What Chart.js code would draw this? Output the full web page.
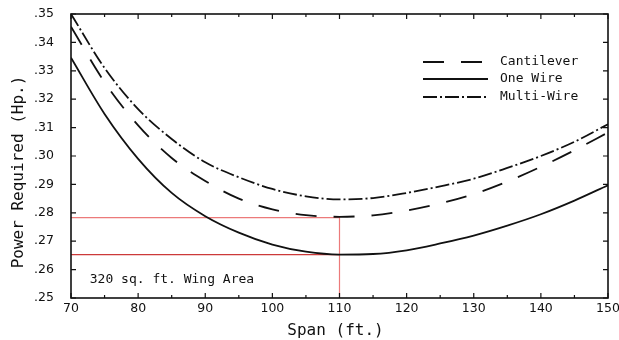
<!DOCTYPE html>
<html>
<head>
<meta charset="utf-8">
<script src="https://cdn.jsdelivr.net/npm/chart.js@4.4.1/dist/chart.umd.min.js"></script>
<style>
  html, body { margin: 0; padding: 0; background: #fff; }
  #wrap { width: 619px; height: 340px; }
</style>
</head>
<body>
<div id="wrap"><canvas id="power-chart" width="619" height="340"></canvas></div>
<script>
// Span (ft.)
var span = [70, 75, 80, 85, 90, 95, 100, 105, 110, 115, 120, 125, 130, 135, 140, 145, 150];
// Power Required (Hp.)
var cantilever = [.3455, .3260, .3108, .2993, .2912, .2850, .2812, .2792, .2786, .2791, .2808, .2833, .2866, .2910, .2962, .3020, .3083];
var oneWire    = [.3346, .3148, .2990, .2870, .2788, .2730, .2688, .2663, .2653, .2655, .2668, .2692, .2720, .2755, .2795, .2843, .2897];
var multiWire  = [.3500, .3310, .3165, .3060, .2978, .2925, .2884, .2858, .2847, .2852, .2870, .2893, .2920, .2958, .3000, .3050, .3112];

// red guide lines (read at 110 ft.)
var guideSpan = [70, 110, 110];
var guideCantilever = [.2783, .2783, .25];
var guideOneWire = [.2653, .2653];

var xTicks = [70, 80, 90, 100, 110, 120, 130, 140, 150];
var yTicks = [.25, .26, .27, .28, .29, .30, .31, .32, .33, .34, .35];
var noteText = '320 sq. ft. Wing Area';
var xTitle = 'Span (ft.)';
var yTitle = 'Power Required (Hp.)';

function toPoints(xs, ys) {
    var pts = [];
    for (var i = 0; i < ys.length; i++) pts.push({x: xs[i], y: ys[i]});
    return pts;
}

var mono = '"DejaVu Sans Mono", monospace';

// frame, inward ticks, legend, note and axis titles
var framePlugin = {
    id: 'frame',
    afterDatasetsDraw: function (chart) {
        var ctx = chart.ctx, a = chart.chartArea;
        var xs = chart.scales.x, ys = chart.scales.y;
        ctx.save();
        ctx.strokeStyle = '#111';
        ctx.lineWidth = 1.6;
        ctx.strokeRect(a.left, a.top, a.right - a.left, a.bottom - a.top);
        ctx.lineWidth = 1.2;
        ctx.beginPath();
        for (var v = 70; v <= 150; v += 5) {
            var px = xs.getPixelForValue(v);
            var len = (v % 10 === 0) ? 5 : 3;
            ctx.moveTo(px, a.bottom); ctx.lineTo(px, a.bottom - len);
            ctx.moveTo(px, a.top); ctx.lineTo(px, a.top + len);
        }
        yTicks.forEach(function (t) {
            var py = ys.getPixelForValue(t);
            ctx.moveTo(a.left, py); ctx.lineTo(a.left + 5, py);
            ctx.moveTo(a.right, py); ctx.lineTo(a.right - 5, py);
        });
        ctx.stroke();

        // legend
        var ds = chart.data.datasets;
        var x0 = a.right - 185, x1 = a.right - 120, tx = a.right - 108;
        var rowY = [a.top + 48, a.top + 65, a.top + 83];
        ctx.font = '13px ' + mono;
        ctx.fillStyle = '#111';
        ctx.textBaseline = 'middle';
        for (var i = 0; i < 3; i++) {
            ctx.setLineDash(ds[i].borderDash || []);
            ctx.lineWidth = ds[i].borderWidth;
            ctx.strokeStyle = ds[i].borderColor;
            ctx.beginPath();
            ctx.moveTo(x0, rowY[i]); ctx.lineTo(x1, rowY[i]);
            ctx.stroke();
            ctx.fillText(ds[i].label, tx, rowY[i]);
        }
        ctx.setLineDash([]);

        // note
        ctx.fillText(noteText, xs.getPixelForValue(72.8), ys.getPixelForValue(.2565));

        // axis titles
        ctx.font = '16px ' + mono;
        ctx.textAlign = 'center';
        ctx.fillText(xTitle, (a.left + a.right) / 2 - 4, 331);
        ctx.translate(18.5, (a.top + a.bottom) / 2 + 16);
        ctx.rotate(-Math.PI / 2);
        ctx.fillText(yTitle, 0, 0);
        ctx.restore();
    }
};

var ctx = document.getElementById('power-chart').getContext('2d');

new Chart(ctx, {
    type: 'line',
    data: {
        datasets: [{
            label: 'Cantilever',
            data: toPoints(span, cantilever),
            borderColor: '#111',
            borderWidth: 1.8,
            borderDash: [21, 17],
            pointRadius: 0,
            cubicInterpolationMode: 'monotone'
        }, {
            label: 'One Wire',
            data: toPoints(span, oneWire),
            borderColor: '#111',
            borderWidth: 1.8,
            pointRadius: 0,
            cubicInterpolationMode: 'monotone'
        }, {
            label: 'Multi-Wire',
            data: toPoints(span, multiWire),
            borderColor: '#111',
            borderWidth: 1.8,
            borderDash: [14, 3, 2, 3],
            pointRadius: 0,
            cubicInterpolationMode: 'monotone'
        }, {
            label: 'guide 1',
            data: toPoints(guideSpan, guideCantilever),
            borderColor: '#ec7a7a',
            borderWidth: 1.2,
            pointRadius: 0,
            tension: 0
        }, {
            label: 'guide 2',
            data: toPoints(guideSpan, guideOneWire),
            borderColor: '#cc3a3a',
            borderWidth: 1.2,
            pointRadius: 0,
            tension: 0
        }]
    },
    options: {
        responsive: false,
        animation: false,
        events: [],
        layout: { autoPadding: false, padding: { left: 0, top: 14, right: 11, bottom: 0 } },
        plugins: {
            legend: { display: false },
            tooltip: { enabled: false }
        },
        scales: {
            x: {
                type: 'linear',
                min: 70,
                max: 150,
                afterFit: function (scale) {
                    scale.height = 42;
                    scale.paddingLeft = 0;
                    scale.paddingRight = 0;
                },
                afterBuildTicks: function (scale) {
                    scale.ticks = xTicks.map(function (v) { return {value: v}; });
                },
                grid: { display: false, drawTicks: false },
                border: { display: false },
                ticks: {
                    padding: 3,
                    color: '#111',
                    font: { family: '"DejaVu Sans", sans-serif', size: 12.5 }
                }
            },
            y: {
                type: 'linear',
                min: .25,
                max: .35,
                afterFit: function (scale) {
                    scale.width = 71;
                    scale.paddingTop = 0;
                    scale.paddingBottom = 0;
                },
                afterBuildTicks: function (scale) {
                    scale.ticks = yTicks.map(function (v) { return {value: v}; });
                },
                grid: { display: false, drawTicks: false },
                border: { display: false },
                ticks: {
                    padding: 17,
                    color: '#111',
                    font: { family: '"DejaVu Sans", sans-serif', size: 12.5 },
                    callback: function (v) { return Number(v).toFixed(2).replace(/^0/, ''); }
                }
            }
        }
    },
    plugins: [framePlugin]
});
</script>
</body>
</html>
